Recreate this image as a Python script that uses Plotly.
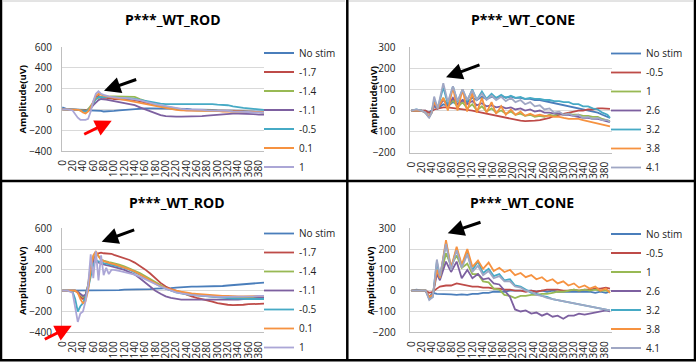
import plotly.graph_objects as go

W, H = 696, 363
FONT = "Open Sans"

# ---------------- names / colours ----------------
rod_names = ["No stim", "-1.7", "-1.4", "-1.1", "-0.5", "0.1", "1"]
cone_names = ["No stim", "-0.5", "1", "2.6", "3.2", "3.8", "4.1"]
rod_colors = ["#4A7EBB", "#BE4B48", "#98B954", "#7D60A0", "#46AAC5", "#F69240", "#ABA6D6"]
cone_colors = ["#4A7EBB", "#BE4B48", "#98B954", "#7D60A0", "#46AAC5", "#F69240", "#A0A7C4"]

x_ticks = list(range(0, 381, 20))

# ---------------- ROD panels (time, ms) ----------------
x_rod = [0, 10, 20, 25, 30, 35, 40, 45, 50, 55,
         60, 65, 70, 75, 80, 85, 90, 95, 100, 110,
         120, 130, 140, 150, 160, 170, 180, 190, 200, 210,
         220, 230, 240, 250, 260, 270, 280, 290, 300, 310,
         320, 330, 340, 350, 360, 370, 380, 390]

# top ROD panel
rodA_nostim = [20, 0, 0, 0, 0, -5, -5, -5, -10, -10, -10, -10, -15, -15, -20, -20, -20, -15, -15, -10,
               -5, 0, 5, 10, 10, 10, 10, 10, 10, 10, 5, 5, 5, 0, 0, -5, -5, -5, -10, -10,
               -10, -15, -15, -15, -20, -20, -20, -20]
rodA_m17 = [0, 0, 0, 0, 0, -5, -10, -10, 0, 20, 60, 120, 130, 120, 110, 110, 110, 105, 100, 100,
            100, 95, 90, 80, 70, 55, 40, 30, 20, 10, 0, -5, -10, -10, -10, -10, -10, -10, -10, -10,
            -15, -15, -15, -20, -20, -20, -25, -30]
rodA_m14 = [0, 0, 0, 0, 0, -5, -10, -15, 0, 30, 70, 100, 110, 110, 115, 120, 125, 125, 125, 125,
            125, 125, 120, 100, 80, 60, 45, 35, 25, 15, 5, 0, -5, -10, -10, -10, -10, -10, -15, -15,
            -15, -20, -20, -20, -20, -25, -25, -30]
rodA_m11 = [0, 0, 0, 0, -5, -10, -15, -20, -10, 10, 40, 70, 90, 100, 100, 95, 90, 85, 80, 70,
            60, 50, 40, 20, 0, -20, -40, -55, -65, -70, -70, -70, -70, -70, -65, -65, -60, -55, -50, -45,
            -45, -40, -40, -40, -45, -45, -50, -50]
rodA_m05 = [0, 0, 0, 0, -5, -10, -20, -20, -10, 20, 60, 100, 120, 120, 120, 115, 115, 115, 115, 110,
            110, 105, 100, 90, 80, 70, 60, 55, 50, 50, 50, 55, 55, 50, 50, 55, 55, 50, 45, 45,
            40, 30, 20, 15, 10, 5, 0, -5]
rodA_p01 = [0, 0, 0, 0, -5, -10, -30, -40, -20, 20, 80, 130, 150, 140, 130, 125, 120, 115, 110, 100,
            90, 80, 70, 60, 50, 40, 30, 20, 10, 0, -5, -10, -10, -10, -10, -15, -15, -15, -15, -20,
            -20, -20, -20, -20, -20, -25, -25, -25]
rodA_p1 = [0, 0, -10, -50, -80, -100, -100, -100, -90, -20, 80, 150, 175, 150, 140, 130, 125, 120, 115, 110,
           110, 105, 100, 90, 75, 60, 50, 40, 30, 20, 10, 5, 0, 0, -5, -5, -10, -10, -10, -15,
           -15, -20, -20, -25, -25, -30, -30, -30]

# bottom ROD panel
rodB_nostim = [0, 0, 0, 0, 0, 0, 0, 0, 0, 0, 5, 5, 5, 5, 5, 5, 5, 5, 5, 5,
               10, 10, 15, 15, 15, 15, 20, 20, 20, 25, 30, 35, 40, 40, 40, 40, 40, 40, 45, 45,
               50, 55, 60, 65, 70, 75, 80, 78]
rodB_m17 = [0, 0, 0, 0, -20, -60, -80, -50, 50, 200, 300, 340, 360, 365, 360, 360, 360, 355, 345, 330,
            315, 295, 270, 240, 205, 165, 120, 75, 40, 15, 0, -20, -40, -55, -70, -80, -90, -105, -120, -130,
            -135, -138, -140, -135, -130, -130, -128, -125]
rodB_m14 = [0, 0, 0, 0, -10, -40, -60, -40, 60, 250, 330, 370, 330, 300, 290, 280, 275, 270, 265, 250,
            235, 215, 195, 170, 140, 110, 80, 50, 25, 5, -10, -25, -35, -40, -45, -50, -55, -55, -60, -60,
            -60, -60, -65, -65, -65, -70, -70, -70]
rodB_m11 = [0, 0, 0, 0, -10, -30, -50, -40, 40, 200, 280, 300, 270, 260, 250, 245, 240, 235, 230, 215,
            200, 180, 155, 120, 80, 40, 0, -30, -55, -70, -80, -85, -85, -85, -85, -85, -90, -90, -90, -90,
            -85, -85, -85, -80, -80, -75, -70, -65]
rodB_m05 = [0, 0, -10, -80, -200, -150, -120, -60, 20, 150, 250, 290, 280, 270, 265, 260, 255, 250, 245, 235,
            220, 200, 180, 155, 125, 95, 65, 40, 20, 0, -15, -25, -35, -40, -45, -50, -55, -60, -65, -70,
            -75, -75, -75, -80, -80, -80, -80, -80]
rodB_p01 = [0, 0, 0, 0, -20, -80, -120, -100, 0, 200, 340, 380, 330, 300, 285, 275, 270, 260, 255, 240,
            225, 205, 185, 160, 130, 100, 70, 45, 25, 10, 0, -10, -20, -25, -30, -35, -40, -45, -50, -50,
            -50, -55, -55, -55, -55, -55, -50, -50]
rodB_p1 = [0, 0, -20, -150, -300, -220, -200, -100, 50, 350, 120, 380, 100, 340, 150, 220, 160, 200, 200, 190,
           180, 170, 155, 135, 110, 85, 60, 40, 20, 0, -15, -25, -35, -40, -45, -50, -55, -55, -60, -60,
           -60, -60, -60, -60, -55, -55, -50, -50]

# ---------------- CONE panels ----------------
x_coneA = [0, 10, 20, 28, 35, 40, 45, 52,
           63, 72, 82, 91, 101, 110, 120, 129, 139, 148,
           158, 167, 177, 186, 196, 205, 215, 224, 234, 243,
           253, 262, 272, 281, 291, 300, 310, 319, 329, 338,
           348, 357, 367, 376, 386, 391]
coneA_nostim = [0, 0, 0, 0, -10, 0, 20, 10, 30, 20, 40, 30, 50, 40, 60, 50, 65, 55,
                65, 60, 68, 62, 65, 60, 60, 55, 55, 50, 50, 45, 40, 35, 30, 25, 20, 15, 10, 5,
                0, -5, -10, -20, -30, -35]
coneA_m05 = [0, 0, 0, 0, -10, -5, 5, 10, 15, 15, 12, 10, 8, 5, 0, -5, -10, -15,
             -20, -25, -30, -35, -40, -45, -48, -50, -50, -48, -45, -40, -35, -25, -20, -15, -10, -5, 0, 0,
             5, 5, 10, 10, 10, 8]
coneA_p1 = [0, 0, 0, -10, -30, -10, 40, 10, 60, 20, 50, 15, 40, 10, 30, 0, 20, -5,
            10, -10, 0, -15, -5, -20, -15, -25, -20, -30, -25, -30, -20, -25, -15, -20, -15, -20, -20, -25,
            -25, -30, -30, -40, -45, -50]
coneA_p26 = [0, 0, 0, -10, -30, -10, 30, 10, 50, 25, 60, 30, 50, 30, 45, 25, 35, 20,
             25, 15, 20, 10, 15, 5, 10, 0, 5, -5, 0, -10, -10, -15, -15, -20, -20, -25, -30, -35,
             -35, -40, -40, -45, -50, -55]
coneA_p32 = [0, 5, 0, -10, -30, -10, 50, 10, 110, 30, 115, 40, 100, 45, 100, 50, 90, 55,
             80, 60, 75, 60, 70, 60, 65, 55, 60, 55, 55, 50, 50, 45, 45, 40, 40, 30, 30, 20,
             20, 10, 5, -10, -20, -35]
coneA_p38 = [0, 0, 0, -10, -30, -10, 40, 10, 60, 0, 110, 0, 100, -5, 85, -10, 60, -10,
             40, -15, 20, -20, 5, -20, -5, -25, -15, -25, -20, -25, -25, -30, -30, -35, -40, -40, -40, -45,
             -50, -55, -60, -65, -70, -75]
coneA_p41 = [0, 5, 0, -10, -36, -10, 66, 10, 130, 40, 115, 45, 100, 50, 95, 50, 80, 50,
             70, 50, 65, 45, 60, 40, 50, 30, 40, 20, 25, 5, 10, -10, -5, -20, -15, -25, -20, -35,
             -30, -40, -35, -45, -45, -55]

x_coneB = [0, 10, 20, 28, 35, 42, 50, 56,
           68, 78, 89, 99, 110, 120, 131, 141, 152, 162,
           173, 183, 194, 204, 215, 225, 236, 246, 257, 267,
           278, 288, 299, 309, 320, 330, 341, 351, 362, 372,
           383, 391]
coneB_nostim = [0, 5, 0, 0, -30, -10, -15, -15, -15, -18, -20, -18, -20, -15, -15, -10, -10, -5,
                -5, -5, 0, 0, 0, 0, 0, -5, 0, -5, 0, -5, -5, -5, -5, -5, -5, -5, -10, -5,
                -10, -5]
coneB_m05 = [0, 0, 0, 0, -10, -5, 10, 20, 25, 25, 35, 30, 25, 20, 20, 15, 15, 10,
             10, 5, 5, 0, 0, -5, 0, -5, 0, 5, 5, 5, 0, 0, 5, 0, 5, 5, 10, 10,
             15, 10]
coneB_p1 = [0, 0, 0, 0, -35, -20, 100, 60, 180, 120, 170, 110, 130, 80, 80, 45, 40, 10,
            5, -20, -25, -35, -25, -25, -20, -20, -15, -15, -10, -5, -5, 0, 5, 0, 5, 0, 5, 0,
            0, -5]
coneB_p26 = [0, 0, 0, 0, -30, -20, 80, 50, 140, 90, 140, 60, 100, 60, 80, 55, 60, 35,
             30, 0, -30, -90, -100, -95, -110, -105, -120, -110, -125, -120, -135, -120, -120, -110, -115, -110, -105, -100,
             -95, -100]
coneB_p32 = [0, 0, 0, 0, -40, -30, 140, 60, 230, 110, 200, 120, 180, 100, 140, 85, 105, 70,
             80, 50, 55, 25, 20, 5, -10, -15, -25, -30, -40, -45, -50, -55, -60, -65, -70, -75, -80, -85,
             -90, -95]
coneB_p38 = [0, 0, 0, 0, -30, -20, 100, 60, 243, 110, 211, 125, 200, 115, 145, 105, 135, 95,
             110, 90, 100, 75, 85, 65, 75, 55, 65, 45, 55, 35, 45, 25, 35, 15, 25, 10, 20, 0,
             10, -10]
coneB_p41 = [0, 0, 0, 0, -45, -30, 150, 70, 225, 100, 195, 110, 175, 90, 120, 75, 95, 60,
             70, 45, 45, 20, 15, 0, -5, -20, -25, -35, -40, -45, -50, -55, -60, -65, -70, -75, -80, -85,
             -90, -95]

panels = [
    dict(x=x_rod, ys=[rodA_nostim, rodA_m17, rodA_m14, rodA_m11, rodA_m05, rodA_p01, rodA_p1],
         names=rod_names, colors=rod_colors, title="P***_WT_ROD"),
    dict(x=x_coneA, ys=[coneA_nostim, coneA_m05, coneA_p1, coneA_p26, coneA_p32, coneA_p38, coneA_p41],
         names=cone_names, colors=cone_colors, title="P***_WT_CONE"),
    dict(x=x_rod, ys=[rodB_nostim, rodB_m17, rodB_m14, rodB_m11, rodB_m05, rodB_p01, rodB_p1],
         names=rod_names, colors=rod_colors, title="P***_WT_ROD"),
    dict(x=x_coneB, ys=[coneB_nostim, coneB_m05, coneB_p1, coneB_p26, coneB_p32, coneB_p38, coneB_p41],
         names=cone_names, colors=cone_colors, title="P***_WT_CONE"),
]

# ---------------- layout geometry (pixels) ----------------
def fx(px):
    return px / W

def fy(py):
    return 1 - py / H

geo = [
    dict(l=62, r=264, t=47, b=151, yr=[-400, 600], dt=200, xr=[-0.5, 390],
         tx=173, ty=19.5, yx=22, yy=99.5, lx=259, ly=38.5, sto=7),
    dict(l=409.5, r=612, t=47.3, b=152.7, yr=[-200, 300], dt=100, xr=[-3.5, 395],
         tx=523, ty=19.5, yx=372.5, yy=100, lx=606, ly=39, sto=11),
    dict(l=62, r=264, t=228.3, b=332.3, yr=[-400, 600], dt=200, xr=[-0.5, 390],
         tx=177, ty=202.7, yx=22, yy=281, lx=259, ly=219, sto=7),
    dict(l=409.7, r=612, t=228.3, b=332.3, yr=[-200, 300], dt=100, xr=[-3.5, 395],
         tx=522, ty=202.7, yx=370.5, yy=280.5, lx=606, ly=219.5, sto=11),
]

fig = go.Figure()
layout = dict(width=W, height=H, margin=dict(l=0, r=0, t=0, b=0, autoexpand=False),
              paper_bgcolor="white", plot_bgcolor="white",
              font=dict(family=FONT, size=10, color="#222222"),
              annotations=[], shapes=[])

for i, (p, g) in enumerate(zip(panels, geo)):
    k = "" if i == 0 else str(i + 1)
    leg = "legend" if i == 0 else "legend" + str(i + 1)
    for y, n, c in zip(p["ys"], p["names"], p["colors"]):
        fig.add_trace(go.Scatter(x=p["x"], y=y, name=n, mode="lines",
                                 line=dict(color=c, width=1.8),
                                 xaxis="x" + k, yaxis="y" + k, legend=leg))
    layout["xaxis" + k] = dict(domain=[fx(g["l"]), fx(g["r"])], anchor="y" + k,
                               range=g["xr"], tickmode="array", tickvals=x_ticks,
                               ticktext=[str(v) for v in x_ticks], tickangle=-90,
                               showgrid=False, zeroline=False, showline=True,
                               linecolor="#BFBFBF", linewidth=1, ticks="",
                               tickfont=dict(size=10, color="#222222"),
                               ticklabelstandoff=4, automargin=False)
    layout["yaxis" + k] = dict(domain=[fy(g["b"]), fy(g["t"])], anchor="x" + k,
                               range=g["yr"], dtick=g["dt"], tick0=0,
                               showgrid=True, gridcolor="#D9D9D9", gridwidth=1,
                               zeroline=False, showline=True, linecolor="#BFBFBF",
                               linewidth=1, ticks="",
                               tickfont=dict(size=10, color="#222222"),
                               ticklabelstandoff=g["sto"], automargin=False)
    layout[leg] = dict(x=fx(g["lx"]), y=fy(g["ly"]), xanchor="left", yanchor="top",
                       bgcolor="rgba(0,0,0,0)", font=dict(size=10, color="#222222"),
                       itemwidth=30, traceorder="normal")
    layout["annotations"].append(dict(x=fx(g["tx"]), y=fy(g["ty"]), xref="paper", yref="paper",
                                      text="<b>" + p["title"] + "</b>", showarrow=False,
                                      xanchor="center", yanchor="middle",
                                      font=dict(size=14, color="#000000")))
    layout["annotations"].append(dict(x=fx(g["yx"]), y=fy(g["yy"]), xref="paper", yref="paper",
                                      text="<b>Amplitude(uV)</b>", showarrow=False, textangle=-90,
                                      xanchor="center", yanchor="middle",
                                      font=dict(size=9.5, color="#000000")))

# arrows (head position, tail offset in px)
arrows = [
    (104, 90.7, 33.7, -11.7, "#000000"),
    (111.7, 120.7, -29, 14.3, "#FF0000"),
    (446, 77.3, 35, -13, "#000000"),
    (101.7, 241.7, 34, -12.4, "#000000"),
    (71.7, 325.7, -28.4, 14.3, "#FF0000"),
    (447.7, 233.3, 34.3, -11.6, "#000000"),
]
for hx, hy, ax, ay, col in arrows:
    layout["annotations"].append(dict(x=fx(hx), y=fy(hy), xref="paper", yref="paper",
                                      ax=ax, ay=ay, text="", showarrow=True,
                                      arrowhead=2, arrowsize=1.1, arrowwidth=3,
                                      arrowcolor=col, standoff=0))

# table borders
def line(x0, y0, x1, y1, w=2.5, c="#000000"):
    return dict(type="line", xref="paper", yref="paper", x0=fx(x0), y0=fy(y0),
                x1=fx(x1), y1=fy(y1), line=dict(color=c, width=w))

layout["shapes"] += [
    line(1, 0, 1, 361),
    line(695, 0, 695, 361),
    line(0, 360.3, 696, 360.3),
    line(347.3, 0, 347.3, 361),
    line(0, 181, 696, 181),
    line(3, 1, 345, 1, 1, "#C8C8C8"),
    line(349, 1, 693, 1, 1, "#C8C8C8"),
]

fig.update_layout(**layout)
fig.write_html("out.html", config={"displayModeBar": False},
               post_script="document.body.style.margin='0';document.body.style.padding='0';")
